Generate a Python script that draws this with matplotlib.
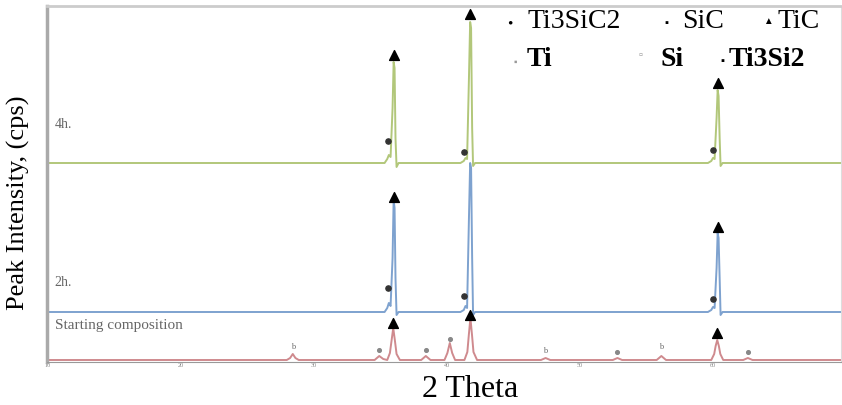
import matplotlib.pyplot as plt

plt.rcParams['font.family'] = ['Liberation Serif', 'DejaVu Serif']

# 2 Theta / intensity points (arbitrary counts, traces stacked)
greenX = [9.9, 35.3, 35.5, 35.62, 35.75, 35.9, 35.98, 36.05, 36.12, 36.2, 36.35,
          41.0, 41.25, 41.38, 41.5, 41.64, 41.73, 41.8, 41.88, 41.95, 42.1,
          59.6, 59.85, 59.98, 60.1, 60.25, 60.33, 60.4, 60.48, 60.55, 60.7, 69.7]
greenY = [205, 205, 209, 213, 211, 260, 306, 300, 230, 201, 205,
          205, 207, 210, 209, 290, 346, 340, 240, 202, 205,
          205, 207, 210, 209, 250, 278, 272, 230, 202, 205, 205]

blueX = [9.9, 35.3, 35.5, 35.62, 35.75, 35.9, 35.98, 36.05, 36.12, 36.2, 36.35,
         41.0, 41.25, 41.38, 41.5, 41.64, 41.73, 41.8, 41.88, 41.95, 42.1,
         59.6, 59.85, 59.98, 60.1, 60.25, 60.33, 60.4, 60.48, 60.55, 60.7, 69.7]
blueY = [56, 56, 60, 65, 62, 110, 168, 160, 90, 53, 56,
         56, 58, 62, 60, 150, 205, 200, 110, 53, 56,
         56, 58, 61, 60, 100, 135, 130, 90, 53, 56, 56]

redX = [9.9, 27.95, 28.2, 28.4, 28.6, 28.85,
        34.55, 34.9, 35.2, 35.5, 35.7, 35.83, 35.95, 36.07, 36.2, 36.45,
        38.05, 38.4, 38.75, 39.8, 40.02, 40.2, 40.38, 40.6,
        41.3, 41.52, 41.63, 41.75, 41.87, 41.98, 42.25,
        47.05, 47.4, 47.75, 52.45, 52.8, 53.15, 55.75, 56.1, 56.45,
        59.85, 60.07, 60.18, 60.3, 60.42, 60.53, 60.75, 62.25, 62.6, 62.95, 69.7]
redY = [8, 8, 10, 14, 10, 8,
        8, 12, 9, 8, 15, 28, 40, 28, 14, 8,
        8, 12, 8, 8, 15, 25, 15, 8,
        8, 16, 33, 50, 33, 16, 8,
        8, 10, 8, 8, 10, 8, 8, 12, 8,
        8, 14, 22, 28, 22, 14, 8, 8, 10, 8, 8]

# phase markers (2 Theta, height)
ticX = [36.0, 41.75, 60.35, 36.0, 60.35, 35.95, 41.75, 60.3]
ticY = [313, 354, 285, 171, 141, 45, 53, 35]
ti3sic2X = [35.55, 41.3, 59.95, 35.55, 41.3, 59.95]
ti3sic2Y = [227, 216, 218, 80, 72, 69]
siX = [28.4, 47.4, 56.1]
siY = [21, 17, 21]
tiX = [34.9, 38.4, 40.2, 52.8, 62.6]
tiY = [18, 18, 29, 16, 16]

traceLabels = ['4h.', '2h.', 'Starting composition']
traceLabelY = [243, 85, 43]
legendRow1 = ['Ti3SiC2', 'SiC', 'TiC']
legendRow2 = ['Ti', 'Si', 'Ti3Si2']

fig = plt.figure(figsize=(8.42, 4.05), dpi=100)
ax = fig.add_axes([47 / 842, 43 / 405, 794 / 842, 356 / 405])

ax.plot(greenX, greenY, color='#b2c77a', lw=1.4)
ax.plot(blueX, blueY, color='#7ea2cf', lw=1.4)
ax.plot(redX, redY, color='#cf8a8e', lw=1.4)

ax.scatter(ticX, ticY, marker='^', s=50, color='black', zorder=5)
ax.scatter(ti3sic2X, ti3sic2Y, marker='o', s=14, color='#333333', zorder=5)
for x, y in zip(siX, siY):
    ax.text(x, y, 'b', fontsize=6, color='#666666', ha='center', va='center')
ax.scatter(tiX, tiY, marker='o', s=7, color='#888888', zorder=5)

for lab, y in zip(traceLabels, traceLabelY):
    ax.text(10.5, y, lab, fontsize=10 if lab != traceLabels[2] else 11,
            color='#666666', va='center')

ax.set_xlim(9.93, 69.6)
ax.set_ylim(6, 362)
ax.set_yticks([])
ax.set_xticks([10, 20, 30, 40, 50, 60])
ax.tick_params(axis='x', labelsize=4.5, colors='#888888', length=0, pad=0.5)
ax.spines['left'].set_color('#aaaaaa')
ax.spines['left'].set_linewidth(2.5)
ax.spines['bottom'].set_color('#999999')
ax.spines['top'].set_color('#cccccc')
ax.spines['top'].set_linewidth(2)
ax.spines['right'].set_color('#dddddd')

fig.text(470 / 842, 1 - 404 / 405, '2 Theta', fontsize=23, ha='center', va='bottom')
fig.text(18 / 842, 1 - 203 / 405, 'Peak Intensity, (cps)', rotation=90,
         fontsize=19, ha='center', va='center')

# legend drawn as plain text like the original
fig.text(510 / 842, 1 - 24 / 405, '•', fontsize=11, ha='center', va='center')
fig.text(527 / 842, 1 - 22 / 405, legendRow1[0], fontsize=20, va='center')
fig.text(666 / 842, 1 - 23 / 405, '▪', fontsize=8, ha='center', va='center')
fig.text(682 / 842, 1 - 22 / 405, legendRow1[1], fontsize=20, va='center')
fig.text(768 / 842, 1 - 22 / 405, '▲', fontsize=7, ha='center', va='center')
fig.text(778 / 842, 1 - 22 / 405, legendRow1[2], fontsize=20, va='center')
fig.text(515 / 842, 1 - 62 / 405, '▪', fontsize=7, color='#999999', ha='center', va='center')
fig.text(527 / 842, 1 - 59 / 405, legendRow2[0], fontsize=20, fontweight='bold', va='center')
fig.text(640 / 842, 1 - 56 / 405, '▫', fontsize=8, color='#999999', ha='center', va='center')
fig.text(660 / 842, 1 - 59 / 405, legendRow2[1], fontsize=20, fontweight='bold', va='center')
fig.text(722 / 842, 1 - 61 / 405, '▪', fontsize=8, ha='center', va='center')
fig.text(729 / 842, 1 - 59 / 405, legendRow2[2], fontsize=20, fontweight='bold', va='center')

fig.savefig('out.png', dpi=100)
